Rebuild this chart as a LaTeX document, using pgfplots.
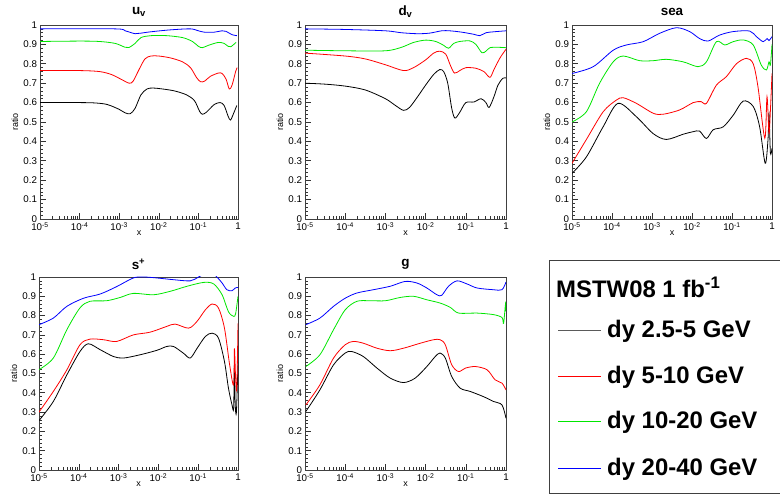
\documentclass[border=0pt]{standalone}
\usepackage{pgfplots}
\pgfplotsset{compat=1.18}
\usepackage{fontspec}
\setmainfont{Liberation Sans}
\definecolor{rgreen}{RGB}{0,230,0}
\definecolor{rred}{RGB}{255,0,0}
\definecolor{rblue}{RGB}{0,0,255}
\definecolor{rgray}{RGB}{90,90,90}
\pgfplotsset{
  myPanel/.style={
    anchor=south west, scale only axis,
    xmin=-5, xmax=0, ymin=0, ymax=1,
    xtick={-5,-4,-3,-2,-1,0},
    xticklabels={10\textsuperscript{-5},10\textsuperscript{-4},10\textsuperscript{-3},10\textsuperscript{-2},10\textsuperscript{-1},1},
    minor xtick={-4.699,-4.523,-4.398,-4.301,-4.222,-4.155,-4.097,-4.046,
                 -3.699,-3.523,-3.398,-3.301,-3.222,-3.155,-3.097,-3.046,
                 -2.699,-2.523,-2.398,-2.301,-2.222,-2.155,-2.097,-2.046,
                 -1.699,-1.523,-1.398,-1.301,-1.222,-1.155,-1.097,-1.046,
                 -0.699,-0.523,-0.398,-0.301,-0.222,-0.155,-0.097,-0.046},
    ytick={0,0.1,0.2,0.3,0.4,0.5,0.6,0.7,0.8,0.9,1},
    yticklabels={0,0.1,0.2,0.3,0.4,0.5,0.6,0.7,0.8,0.9,1},
    minor y tick num=4,
    tick align=inside, tick pos=left,
    major tick length=5.5bp, minor tick length=3bp,
    every tick/.style={black!80, line width=0.6bp},
    axis line style={black!75, line width=0.8bp},
    ticklabel style={font=\fontsize{9.8}{11}\selectfont},
    yticklabel style={xshift=0.5bp},
    xlabel={x}, ylabel={ratio},
    xlabel style={at={(axis description cs:0.5,0)}, anchor=center, yshift=-14bp, font=\fontsize{9}{10}\selectfont},
    ylabel style={at={(axis description cs:0,0.5)}, anchor=center, yshift=25bp, font=\fontsize{9}{10}\selectfont},
    title style={at={(axis description cs:0.5,1)}, anchor=center, yshift=7bp, font=\bfseries\fontsize{13.5}{15}\selectfont},
    every axis plot/.append style={line width=0.8bp, smooth, tension=0.5, mark=none},
  }
}
\begin{document}
\begin{tikzpicture}[x=1bp,y=1bp]
\useasboundingbox (0,0) rectangle (780,494);
% ---------------- u_v
\begin{axis}[myPanel, at={(40bp,275bp)}, width=198bp, height=194bp, title={u\textsubscript{v}}]
\addplot[black] coordinates {(-5,0.60) (-4,0.60) (-3.6,0.598) (-3.3,0.59) (-3.0,0.565) (-2.85,0.547) (-2.72,0.543) (-2.6,0.57) (-2.45,0.64) (-2.3,0.67) (-2.15,0.675) (-1.9,0.67) (-1.6,0.66) (-1.3,0.64) (-1.1,0.61) (-0.97,0.555) (-0.9,0.54) (-0.8,0.55) (-0.6,0.59) (-0.45,0.60) (-0.35,0.585) (-0.25,0.53) (-0.19,0.51) (-0.12,0.54) (-0.03,0.585)};
\addplot[rred] coordinates {(-5,0.765) (-4,0.765) (-3.5,0.76) (-3.2,0.745) (-2.95,0.72) (-2.75,0.70) (-2.65,0.71) (-2.5,0.77) (-2.35,0.825) (-2.2,0.84) (-2.0,0.84) (-1.7,0.83) (-1.4,0.81) (-1.2,0.78) (-1.05,0.73) (-0.95,0.708) (-0.85,0.71) (-0.7,0.735) (-0.5,0.752) (-0.4,0.75) (-0.3,0.72) (-0.22,0.67) (-0.15,0.69) (-0.06,0.76) (-0.02,0.78)};
\addplot[rgreen] coordinates {(-5,0.915) (-4,0.917) (-3.5,0.915) (-3.1,0.905) (-2.85,0.885) (-2.75,0.884) (-2.6,0.905) (-2.45,0.935) (-2.2,0.945) (-1.8,0.945) (-1.4,0.935) (-1.15,0.915) (-1.0,0.89) (-0.9,0.883) (-0.75,0.895) (-0.5,0.91) (-0.35,0.905) (-0.25,0.89) (-0.18,0.888) (-0.05,0.91)};
\addplot[rblue] coordinates {(-5,0.98) (-3.1,0.98) (-2.85,0.97) (-2.6,0.955) (-2.45,0.958) (-2.2,0.965) (-1.7,0.975) (-1.2,0.98) (-1.0,0.97) (-0.85,0.963) (-0.6,0.963) (-0.4,0.97) (-0.3,0.967) (-0.15,0.95) (-0.03,0.945)};
\end{axis}
% ---------------- d_v
\begin{axis}[myPanel, at={(305bp,275bp)}, width=201bp, height=194bp, title={d\textsubscript{v}}]
\addplot[black] coordinates {(-5,0.70) (-4.5,0.695) (-4,0.685) (-3.5,0.665) (-3,0.62) (-2.75,0.585) (-2.55,0.56) (-2.4,0.575) (-2.2,0.63) (-2.0,0.69) (-1.8,0.745) (-1.65,0.77) (-1.55,0.76) (-1.45,0.70) (-1.35,0.57) (-1.27,0.52) (-1.15,0.55) (-1.0,0.60) (-0.8,0.603) (-0.62,0.62) (-0.5,0.60) (-0.42,0.575) (-0.3,0.63) (-0.2,0.69) (-0.08,0.725) (0,0.727)};
\addplot[rred] coordinates {(-5,0.855) (-4,0.84) (-3.5,0.825) (-3,0.795) (-2.55,0.765) (-2.3,0.78) (-2.0,0.82) (-1.8,0.855) (-1.65,0.865) (-1.5,0.85) (-1.38,0.79) (-1.28,0.752) (-1.15,0.765) (-1.0,0.78) (-0.75,0.777) (-0.55,0.76) (-0.4,0.73) (-0.3,0.77) (-0.15,0.83) (0,0.875)};
\addplot[rgreen] coordinates {(-5,0.87) (-4,0.867) (-3.0,0.867) (-2.6,0.885) (-2.3,0.91) (-2.0,0.922) (-1.75,0.915) (-1.55,0.895) (-1.43,0.88) (-1.3,0.905) (-1.15,0.915) (-0.9,0.918) (-0.75,0.9) (-0.6,0.857) (-0.5,0.865) (-0.4,0.883) (-0.2,0.885) (0,0.883)};
\addplot[rblue] coordinates {(-5,0.98) (-4,0.977) (-3,0.97) (-2.6,0.96) (-2.2,0.955) (-1.9,0.958) (-1.6,0.97) (-1.4,0.97) (-1.1,0.963) (-0.8,0.952) (-0.65,0.945) (-0.5,0.96) (-0.3,0.965) (0,0.97)};
\end{axis}
% ---------------- sea
\begin{axis}[myPanel, at={(572bp,275bp)}, width=200bp, height=194bp, title={sea}]
\addplot[black] coordinates {(-5,0.235) (-4.64,0.32) (-4.22,0.476) (-3.85,0.596) (-3.39,0.527) (-2.97,0.44) (-2.64,0.41) (-2.22,0.437) (-1.97,0.45) (-1.81,0.453) (-1.64,0.415) (-1.47,0.46) (-1.22,0.475) (-0.97,0.535) (-0.72,0.608) (-0.47,0.58) (-0.31,0.476) (-0.17,0.287) (-0.1,0.41) (-0.075,0.545) (-0.04,0.34) (0,0.365)};
\addplot[rred] coordinates {(-5,0.287) (-4.64,0.41) (-4.22,0.553) (-3.89,0.613) (-3.72,0.625) (-3.39,0.596) (-2.97,0.545) (-2.72,0.54) (-2.31,0.562) (-1.97,0.6) (-1.77,0.605) (-1.64,0.596) (-1.39,0.69) (-1.14,0.734) (-0.89,0.80) (-0.64,0.828) (-0.47,0.80) (-0.35,0.68) (-0.18,0.416) (-0.125,0.63) (-0.075,0.44) (-0.04,0.56) (0,0.75)};
\addplot[rgreen] coordinates {(-5,0.50) (-4.64,0.553) (-4.31,0.70) (-3.97,0.81) (-3.72,0.84) (-3.31,0.816) (-2.97,0.816) (-2.64,0.823) (-2.22,0.81) (-1.85,0.785) (-1.64,0.81) (-1.39,0.914) (-1.18,0.897) (-0.97,0.914) (-0.72,0.923) (-0.47,0.897) (-0.27,0.794) (-0.14,0.768) (-0.075,0.81) (-0.04,0.794) (0,0.90)};
\addplot[rblue] coordinates {(-5,0.75) (-4.47,0.785) (-3.97,0.87) (-3.64,0.897) (-3.22,0.914) (-2.81,0.957) (-2.39,0.986) (-2.06,0.966) (-1.81,0.93) (-1.6,0.917) (-1.31,0.948) (-0.97,0.966) (-0.56,0.969) (-0.39,0.94) (-0.22,0.914) (-0.125,0.93) (-0.075,0.92) (0,0.94)};
\end{axis}
% ---------------- s+
\begin{axis}[myPanel, at={(39bp,24bp)}, width=199bp, height=193bp, title={s\textsuperscript{+}}]
\addplot[black] coordinates {(-5,0.256) (-4.64,0.355) (-4.30,0.493) (-3.97,0.614) (-3.76,0.654) (-3.46,0.623) (-3.13,0.588) (-2.88,0.58) (-2.46,0.597) (-2.04,0.62) (-1.79,0.64) (-1.62,0.64) (-1.37,0.605) (-1.2,0.58) (-1.03,0.63) (-0.82,0.692) (-0.65,0.709) (-0.49,0.683) (-0.34,0.562) (-0.24,0.424) (-0.15,0.337) (-0.11,0.32) (-0.09,0.545) (-0.07,0.337) (-0.04,0.30) (0,0.56)};
\addplot[rred] coordinates {(-5,0.30) (-4.64,0.407) (-4.3,0.519) (-3.97,0.649) (-3.72,0.678) (-3.38,0.675) (-3.05,0.666) (-2.63,0.70) (-2.21,0.714) (-1.79,0.744) (-1.58,0.756) (-1.24,0.735) (-1.03,0.77) (-0.82,0.83) (-0.65,0.86) (-0.49,0.839) (-0.34,0.735) (-0.21,0.545) (-0.11,0.44) (-0.09,0.63) (-0.06,0.476) (-0.03,0.424) (0,0.76)};
\addplot[rgreen] coordinates {(-5,0.52) (-4.64,0.58) (-4.3,0.727) (-3.97,0.84) (-3.72,0.874) (-3.3,0.877) (-2.96,0.894) (-2.63,0.915) (-2.12,0.908) (-1.7,0.926) (-1.28,0.952) (-0.86,0.972) (-0.61,0.964) (-0.40,0.908) (-0.24,0.82) (-0.11,0.796) (-0.06,0.81) (0,0.90)};
\addplot[rblue] coordinates {(-5,0.753) (-4.64,0.787) (-4.3,0.848) (-3.88,0.89) (-3.46,0.912) (-3.05,0.95) (-2.63,0.995) (-2.37,1.0) (-2.04,0.995) (-1.62,0.986) (-1.2,0.98) (-0.99,1.0) (-0.8,1.02) (-0.65,1.02) (-0.53,1.0) (-0.40,0.969) (-0.28,0.934) (-0.15,0.929) (-0.07,0.943) (0,0.946)};
\end{axis}
% ---------------- g
\begin{axis}[myPanel, at={(305bp,24bp)}, width=201bp, height=193bp, title={g}]
\addplot[black] coordinates {(-4.98,0.303) (-4.63,0.415) (-4.29,0.545) (-4.0,0.606) (-3.84,0.614) (-3.55,0.588) (-3.21,0.528) (-2.88,0.476) (-2.55,0.453) (-2.26,0.476) (-1.97,0.536) (-1.76,0.588) (-1.64,0.606) (-1.51,0.58) (-1.35,0.484) (-1.14,0.424) (-0.89,0.407) (-0.56,0.38) (-0.31,0.355) (-0.1,0.337) (0,0.268)};
\addplot[rred] coordinates {(-4.98,0.337) (-4.63,0.441) (-4.29,0.58) (-4.0,0.649) (-3.8,0.666) (-3.55,0.657) (-3.21,0.631) (-2.88,0.618) (-2.55,0.631) (-2.13,0.657) (-1.8,0.675) (-1.64,0.675) (-1.51,0.649) (-1.35,0.545) (-1.18,0.51) (-1.01,0.528) (-0.76,0.536) (-0.47,0.519) (-0.27,0.467) (-0.1,0.45) (0,0.415)};
\addplot[rgreen] coordinates {(-4.98,0.536) (-4.63,0.597) (-4.29,0.727) (-4.0,0.83) (-3.71,0.874) (-3.38,0.877) (-3.0,0.877) (-2.63,0.894) (-2.3,0.90) (-1.97,0.882) (-1.64,0.865) (-1.39,0.843) (-1.18,0.813) (-0.72,0.813) (-0.31,0.805) (-0.1,0.79) (-0.06,0.76) (-0.01,0.865) (0,0.82)};
\addplot[rblue] coordinates {(-4.98,0.753) (-4.63,0.787) (-4.29,0.848) (-4.0,0.89) (-3.71,0.917) (-3.3,0.934) (-2.88,0.952) (-2.51,0.977) (-2.22,0.969) (-1.97,0.943) (-1.72,0.908) (-1.6,0.905) (-1.43,0.952) (-1.22,0.98) (-0.97,0.964) (-0.72,0.943) (-0.31,0.934) (-0.1,0.934) (0,0.974)};
\end{axis}
% ---------------- legend box (axis frame) with legend sample lines
\begin{axis}[at={(549bp,1bp)}, anchor=south west, scale only axis, width=241bp, height=233bp,
  xmin=0, xmax=1, ymin=0, ymax=1, xtick=\empty, ytick=\empty,
  axis line style={black!75, line width=0.8bp}]
\addplot[rgray, line width=1.2bp, mark=none] coordinates {(0.0373,0.6974) (0.2158,0.6974)};
\addplot[rred, line width=1.2bp, mark=none] coordinates {(0.0373,0.5000) (0.2158,0.5000)};
\addplot[rgreen, line width=1.2bp, mark=none] coordinates {(0.0373,0.3069) (0.2158,0.3069)};
\addplot[rblue, line width=1.2bp, mark=none] coordinates {(0.0373,0.1052) (0.2158,0.1052)};
\end{axis}
\node[anchor=base west, inner sep=0pt, font=\bfseries\fontsize{24}{26}\selectfont] at (556,196) {MSTW08 1 fb\textsuperscript{-1}};
\node[anchor=base west, inner sep=0pt, font=\bfseries\fontsize{24}{26}\selectfont] at (607,156) {dy 2.5-5 GeV};
\node[anchor=base west, inner sep=0pt, font=\bfseries\fontsize{24}{26}\selectfont] at (607,110) {dy 5-10 GeV};
\node[anchor=base west, inner sep=0pt, font=\bfseries\fontsize{24}{26}\selectfont] at (607,65) {dy 10-20 GeV};
\node[anchor=base west, inner sep=0pt, font=\bfseries\fontsize{24}{26}\selectfont] at (607,18) {dy 20-40 GeV};
\end{tikzpicture}
\end{document}
